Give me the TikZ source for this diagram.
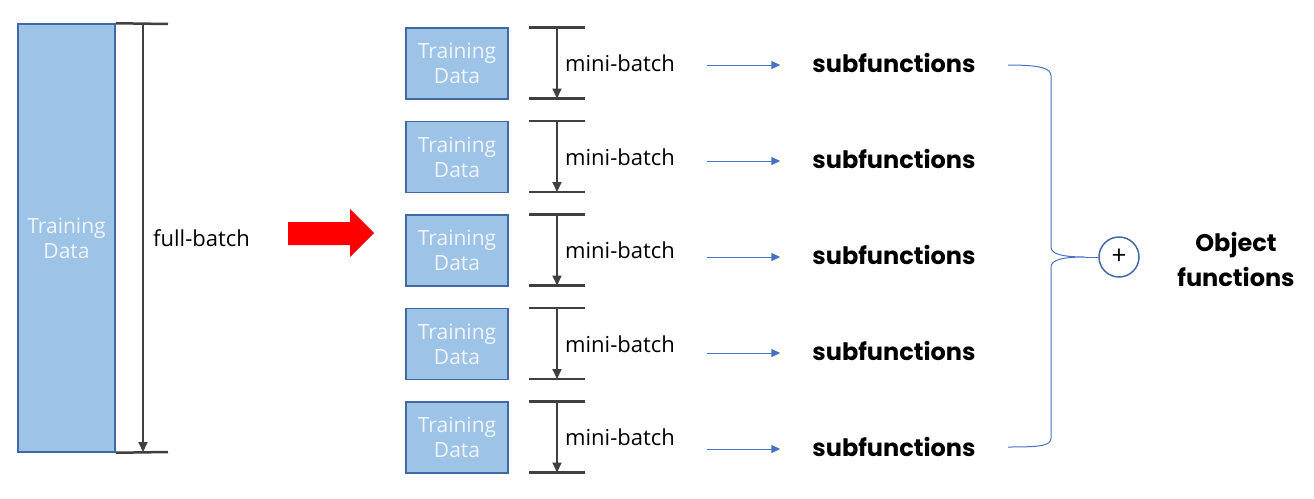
\documentclass[tikz,border=0pt]{standalone}
\usepackage{fontspec}
\setmainfont{Open Sans}
\newfontfamily\geofont{Poppins}
\usetikzlibrary{arrows.meta,positioning,calc}
\definecolor{tdfill}{RGB}{157,195,230}
\definecolor{tdline}{RGB}{65,105,165}
\definecolor{tdtext}{RGB}{240,245,252}
\definecolor{barcol}{RGB}{64,64,64}
\definecolor{flowcol}{RGB}{68,114,196}

\begin{document}
\begin{tikzpicture}[x=1pt,y=-1pt,
  tdbox/.style={draw=tdline,fill=tdfill,line width=1.5pt,text=tdtext,align=center,
    font=\fontsize{21}{25}\selectfont,inner sep=0pt},
  bar/.style={barcol,line width=2.5pt},
  batch/.style={barcol,line width=2pt,-{Triangle[width=9pt,length=10pt]}},
  batchlbl/.style={font=\fontsize{22}{24}\selectfont,inner sep=0pt,anchor=west},
  sublbl/.style={font=\geofont\bfseries\fontsize{24}{27}\selectfont,inner sep=0pt},
  flow/.style={flowcol,line width=1pt,-{Triangle[width=8pt,length=9pt]}}]
  \useasboundingbox (0,0) rectangle (1314,498);
  % Full training set
  \node[tdbox,minimum width=97,minimum height=428] (full) at (66.5,238) {Training\\Data};
  \coordinate (ftop) at (143,24);
  \coordinate (fbot) at (143,452);
  \draw[bar] (full.north east) -- (168,24);
  \draw[bar] (full.south east) -- (168,452);
  \draw[batch] (ftop) -- (fbot);
  \node[batchlbl] (fulllbl) at (153,238) {full-batch};
  % Split arrow
  \fill[red] (288,222) -- (350,222) -- (350,209) -- (374,233) -- (350,257)
    -- (350,245) -- (288,245) -- cycle;
  % Mini-batches
  \foreach \i in {1,...,5} {
    \pgfmathsetmacro\yb{63.5+93.5*(\i-1)}
    \pgfmathsetmacro\ys{63+96*(\i-1)}
    \node[tdbox,minimum width=102,minimum height=71] (td\i) at (457,\yb) {Training\\Data};
    \coordinate (mt\i) at (557,\yb-36);
    \coordinate (mbot\i) at (557,\yb+35);
    \draw[bar] ([xshift=-28pt]mt\i) -- ([xshift=28pt]mt\i);
    \draw[bar] ([xshift=-28pt]mbot\i) -- ([xshift=28pt]mbot\i);
    \draw[batch] (mt\i) -- (mbot\i);
    \node[batchlbl] (mb\i) at (565,\yb) {mini-batch};
    \node[sublbl] (sf\i) at (894,\ys) {subfunctions};
    \draw[flow] ([xshift=-105pt,yshift=-2pt]sf\i.west) -- ([xshift=-32pt,yshift=-2pt]sf\i.west);
  }
  % Sum of subfunctions
  \node[circle,draw=tdline,line width=1.5pt,minimum size=40,inner sep=0pt,
    font=\fontsize{26}{26}\selectfont] (sum) at (1119,257) {+};
  \coordinate (cusp) at (1085,257);
  \draw[flowcol,line width=1pt] (1008,65) .. controls (1040,65) and (1051,68) .. (1051,76)
    -- (1051,247) .. controls (1051,254) and (1062,257) .. (cusp)
    .. controls (1062,257) and (1051,260) .. (1051,267)
    -- (1051,438) .. controls (1051,446) and (1040,447) .. (1008,447);
  \draw[flowcol,line width=1pt] (cusp) -- (sum);
  \node[sublbl,align=center,font=\geofont\bfseries\fontsize{24}{35}\selectfont] (obj) at (1236,259) {Object\\functions};
\end{tikzpicture}
\end{document}
